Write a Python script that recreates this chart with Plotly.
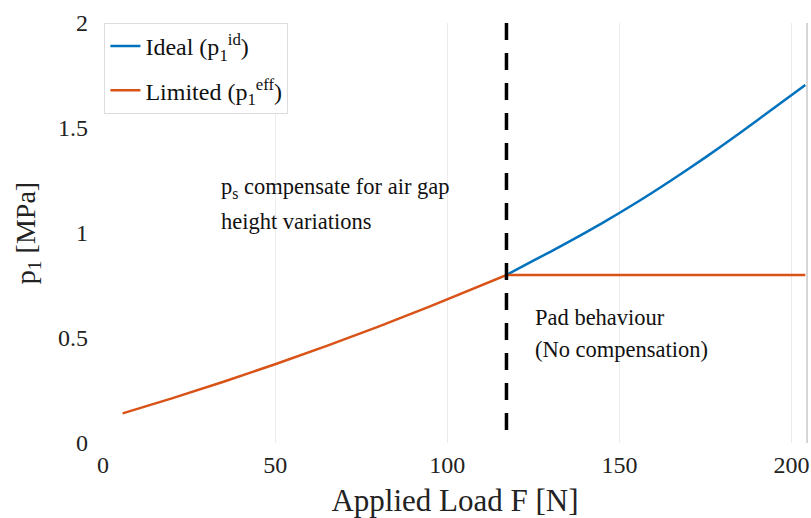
import plotly.graph_objects as go

# Data
F_lim = [5.7, 20, 35, 50, 65, 80, 95, 100, 105, 110, 117.2, 130, 150, 170, 190, 204]
p_lim = [0.141, 0.2125, 0.2917, 0.375, 0.4625, 0.5543, 0.6503, 0.6832, 0.7166, 0.7504, 0.80,
         0.80, 0.80, 0.80, 0.80, 0.80]

F_id = [117.2, 125, 135, 145, 155, 165, 175, 185, 195, 204]
p_id = [0.80, 0.868, 0.955, 1.047, 1.145, 1.250, 1.360, 1.476, 1.597, 1.705]

F_threshold = 117.2

x_ticks = [0, 50, 100, 150, 200]
y_ticks = [0, 0.5, 1, 1.5, 2]
y_ticklabels = ["0", "0.5", "1", "1.5", "2"]

BLUE = "#0072BD"
ORANGE = "#D95319"
FONT = "'Liberation Serif', 'Times New Roman', Times, serif"

fig = go.Figure()
fig.add_trace(go.Scatter(x=F_id, y=p_id, mode="lines", legendgroup="a",
                         line=dict(color=BLUE, width=2.5, shape="spline", smoothing=0.6),
                         name="Ideal (p<sub>1</sub><sup>id</sup>)"))
fig.add_trace(go.Scatter(x=F_lim, y=p_lim, mode="lines", legendgroup="b",
                         line=dict(color=ORANGE, width=2.5),
                         name="Limited (p<sub>1</sub><sup>eff</sup>)"))

fig.add_shape(type="line", xref="x", yref="y", x0=F_threshold, x1=F_threshold,
              y0=2, y1=0, line=dict(color="black", width=3.5, dash="17px,13px"))

ann_font = dict(family=FONT, size=22.5, color="#111")
fig.add_annotation(x=33.8, y=1.216, xref="x", yref="y", xanchor="left", yanchor="middle",
                   text="p<sub>s</sub> compensate for air gap", showarrow=False, font=ann_font)
fig.add_annotation(x=33.8, y=1.054, xref="x", yref="y", xanchor="left", yanchor="middle",
                   text="height variations", showarrow=False, font=ann_font)
fig.add_annotation(x=124.8, y=0.598, xref="x", yref="y", xanchor="left", yanchor="middle",
                   text="Pad behaviour", showarrow=False, font=ann_font)
fig.add_annotation(x=124.8, y=0.446, xref="x", yref="y", xanchor="left", yanchor="middle",
                   text="(No compensation)", showarrow=False, font=ann_font)

fig.update_layout(
    width=811, height=518,
    margin=dict(l=103, r=4, t=23, b=75),
    paper_bgcolor="white", plot_bgcolor="white",
    font=dict(family=FONT, color="#222"),
    legend=dict(x=0.002, y=1, xanchor="left", yanchor="top",
                bgcolor="white", bordercolor="#dddddd", borderwidth=1,
                font=dict(family=FONT, size=24, color="#111"),
                itemwidth=30, tracegroupgap=10),
    xaxis=dict(range=[0, 204.5], tickvals=x_ticks, showgrid=True, gridcolor="#ebebeb",
               gridwidth=1, zeroline=False, showline=False, automargin=False,
               ticks="", ticklabelstandoff=5,
               tickfont=dict(family=FONT, size=24, color="#222"),
               title=dict(text="Applied Load F [N]", font=dict(family=FONT, size=31, color="#222"),
                          standoff=12)),
    yaxis=dict(range=[0, 2], tickvals=y_ticks, ticktext=y_ticklabels, showgrid=False,
               zeroline=False, showline=False, automargin=False,
               ticks="", ticklabelstandoff=14,
               tickfont=dict(family=FONT, size=24, color="#222"),
               title=dict(text="p<sub>1</sub> [MPa]", font=dict(family=FONT, size=28, color="#222"),
                          standoff=14)),
)
# right border line of the axes box
fig.add_shape(type="line", xref="paper", yref="paper", x0=1, x1=1, y0=0, y1=1,
              line=dict(color="#c8c8c8", width=1.5))

fig.write_html("out.html", config={"displayModeBar": False},
               post_script="document.body.style.margin='0';")
